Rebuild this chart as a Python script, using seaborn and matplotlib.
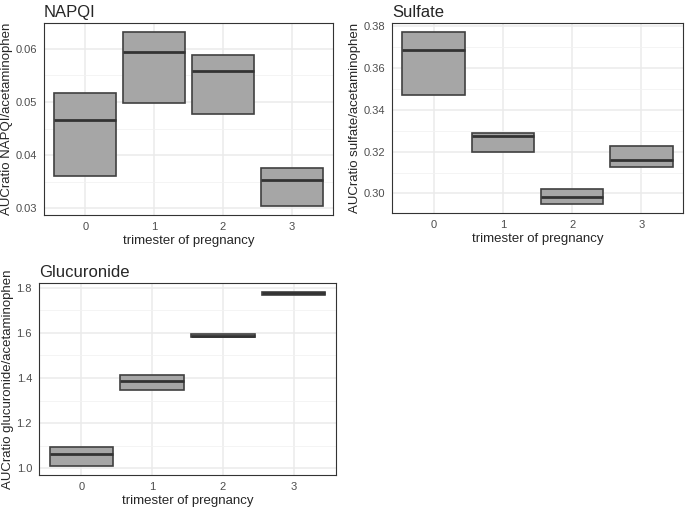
import numpy as np
import pandas as pd
import seaborn as sns
import matplotlib.pyplot as plt
from matplotlib.ticker import MultipleLocator, AutoMinorLocator, FormatStrFormatter

# trimester categories
trimesters = ["0", "1", "2", "3"]

# box stats: lower, middle, upper
napqi_lower = [0.0360, 0.0498, 0.0477, 0.0304]
napqi_median = [0.0466, 0.0594, 0.0559, 0.0353]
napqi_upper = [0.0516, 0.0632, 0.0588, 0.0376]

sulfate_lower = [0.3468, 0.3199, 0.2948, 0.3128]
sulfate_median = [0.3684, 0.3275, 0.2983, 0.3161]
sulfate_upper = [0.3773, 0.3290, 0.3019, 0.3228]

gluc_lower = [1.009, 1.348, 1.582, 1.767]
gluc_median = [1.063, 1.388, 1.588, 1.775]
gluc_upper = [1.0955, 1.4146, 1.594, 1.782]

FILL = "#a6a6a6"
EDGE = "#404040"
TICKCOL = "#4d4d4d"


def make_frame(lower, median, upper):
    # five points per group so the quartiles land on lower / upper
    rows = []
    for t, lo, md, hi in zip(trimesters, lower, median, upper):
        for v in (lo, lo, md, hi, hi):
            rows.append({"trimester": t, "value": v})
    return pd.DataFrame(rows)


def draw_panel(ax, lower, median, upper, title, ylabel, step, fmt):
    df = make_frame(lower, median, upper)
    sns.boxplot(data=df, x="trimester", y="value", order=trimesters, ax=ax,
                color=FILL, saturation=1, width=0.9, whis=0,
                showcaps=False, showfliers=False, linecolor=EDGE,
                linewidth=1.2,
                medianprops={"color": "#333333", "linewidth": 2.0},
                whiskerprops={"linewidth": 0})
    lo, hi = min(lower), max(upper)
    pad = (hi - lo) * 0.05
    ax.set_ylim(lo - pad, hi + pad)
    ax.set_xlim(-0.6, 3.6)

    ax.yaxis.set_major_locator(MultipleLocator(step))
    ax.yaxis.set_minor_locator(AutoMinorLocator(2))
    ax.yaxis.set_major_formatter(FormatStrFormatter(fmt))

    ax.set_axisbelow(True)
    ax.grid(True, which="major", axis="both", color="#ebebeb", linewidth=1.1)
    ax.grid(True, which="minor", axis="y", color="#f2f2f2", linewidth=0.6)

    for s in ax.spines.values():
        s.set_visible(True)
        s.set_color("#333333")
        s.set_linewidth(0.8)

    ax.tick_params(axis="both", which="major", direction="out", length=3,
                   width=0.8, color="#333333", labelcolor=TICKCOL,
                   labelsize=8, pad=2)
    ax.tick_params(axis="y", which="minor", length=0)

    ax.set_title(title, loc="left", fontsize=12, pad=4)
    ax.set_xlabel("trimester of pregnancy", fontsize=9.5, labelpad=2)
    ax.set_ylabel(ylabel, fontsize=9.5, labelpad=2)


sns.set_style("white")
plt.rcParams["font.family"] = ["Liberation Sans", "DejaVu Sans"]

fig = plt.figure(figsize=(6.85, 5.09), dpi=100)
W, H = 685, 509


def px_axes(left, top, right, bottom):
    return fig.add_axes([left / W, 1 - bottom / H, (right - left) / W, (bottom - top) / H])


ax1 = px_axes(44, 23, 333, 215)
ax2 = px_axes(392, 23, 683, 213)
ax3 = px_axes(39, 283, 336, 475)

draw_panel(ax1, napqi_lower, napqi_median, napqi_upper, "NAPQI",
           "AUCratio NAPQI/acetaminophen", 0.01, "%.2f")
draw_panel(ax2, sulfate_lower, sulfate_median, sulfate_upper, "Sulfate",
           "AUCratio sulfate/acetaminophen", 0.02, "%.2f")
draw_panel(ax3, gluc_lower, gluc_median, gluc_upper, "Glucuronide",
           "AUCratio glucuronide/acetaminophen", 0.2, "%.1f")

fig.savefig("out.png", dpi=100)
